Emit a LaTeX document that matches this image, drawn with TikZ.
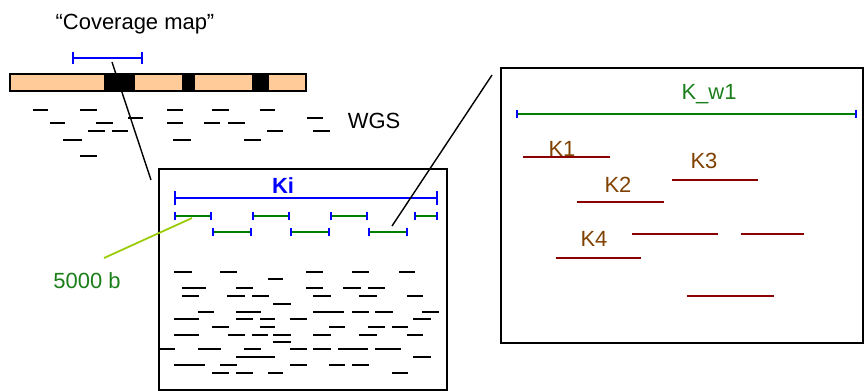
\documentclass[tikz,border=0pt]{standalone}
\usepackage{fontspec}
\setmainfont{Liberation Sans}
\usepackage{xcolor}
\usetikzlibrary{arrows.meta, positioning}

\definecolor{peach}{HTML}{FFCC99}
\definecolor{spangreen}{HTML}{008000}
\definecolor{labelgreen}{HTML}{1A7F1A}
\definecolor{limeline}{HTML}{99CC00}
\definecolor{kbrown}{HTML}{7F4000}
\definecolor{kred}{HTML}{8B0000}

\begin{document}
\begin{tikzpicture}[
    x=0.02cm, y=-0.02cm,
    font=\fontsize{12.5}{15}\selectfont,
    inner sep=0pt,
    label/.style={anchor=base},
    read/.style={line width=1pt},
    thickread/.style={line width=1.6pt},
    kspan/.style={line width=1pt, blue, {Bar[width=14pt*0.567]}-{Bar[width=14pt*0.567]}},
    window/.style={line width=1pt, spangreen, {Bar[width=9pt*0.567, color=blue]}-{Bar[width=9pt*0.567, color=blue]}},
    contig/.style={line width=1pt, kred},
    frame/.style={draw, line width=1pt, anchor=north west}
]
\useasboundingbox (0,0) rectangle (864,390);

% Coverage map
\node[label] (covlabel) at (135,29) {“Coverage map”};
\draw[kspan, {Bar[width=13pt*0.567]}-{Bar[width=13pt*0.567]}] (72,58) -- (143,58);
\coordinate (covtip) at (112,62);

% Genome bar with covered blocks
\draw[line width=0.8pt, fill=peach] (10,74) rectangle (306,91);
\foreach \a/\b in {104/135, 182/195, 252/269}
    \fill (\a,74) rectangle (\b,91);

% WGS reads
\foreach \a/\b/\y in {33/48/110, 80/97/110, 167/183/110, 212/229/110, 260/275/110,
                      128/143/118, 307/323/118,
                      96/113/123, 167/183/123, 204/220/123, 228/245/123,
                      88/105/131, 112/128/131, 267/283/131, 313/330/131,
                      173/191/140, 244/261/140}
    \draw[read] (\a,\y) -- (\b,\y);
\foreach \a/\b/\y in {50/65/123, 63/82/140, 80/97/156}
    \draw[thickread] (\a,\y) -- (\b,\y);
\node[label] (wgs) at (374,128) {WGS};

% Ki box
\node[frame, minimum width=5.76cm, minimum height=4.42cm] (kibox) at (158,168) {};
\coordinate (kicorner) at (151,180);
\node[label, blue, font=\fontsize{12.5}{15}\selectfont\bfseries] (ki) at (283,193) {Ki};
\draw[kspan] (174,198) -- (438,198);

% windows of 5000 b
\foreach \a/\b in {174/212, 252/290, 330/368, 414/438}
    \draw[window] (\a,216) -- (\b,216);
\foreach \a/\b in {212/252, 290/330, 368/408}
    \draw[window] (\a,232) -- (\b,232);
\coordinate (wintip) at (392,226);
\coordinate (sizetip) at (192,218);
\coordinate (sizeend) at (104,258);
\node[label, labelgreen] (winsize) at (87,288) {5000 b};

% reads inside Ki
\foreach \a/\b/\y in {174/192/272, 220/237/272, 306/323/272, 352/369/272, 399/415/272,
                      268/283/279,
                      182/206/288, 236/253/288, 306/323/288, 343/361/288, 368/385/288,
                      182/199/296, 227/245/296, 252/269/296, 313/331/296, 359/377/296, 407/423/296,
                      273/291/304,
                      198/214/312, 236/261/312, 313/344/312, 352/369/312, 375/393/312, 422/439/312,
                      174/199/319, 236/253/319, 260/275/319, 290/307/319, 413/431/319,
                      212/229/327, 260/275/327, 329/345/327, 368/385/327, 392/408/327,
                      174/199/335, 228/245/335, 252/268/335, 273/291/335, 313/331/335, 359/377/335, 407/423/335,
                      273/291/342,
                      158/175/349, 198/221/349, 244/261/349, 290/307/349, 313/331/349, 338/368/349, 375/401/349,
                      236/275/357, 413/431/357,
                      174/205/365, 220/237/365, 290/307/365, 329/345/365, 352/369/365,
                      212/229/373, 236/253/373, 268/283/373, 392/408/373}
    \draw[read] (\a,\y) -- (\b,\y);

% window box
\node[frame, minimum width=7.24cm, minimum height=5.5cm] (winbox) at (500,67) {};
\coordinate (wincorner) at (492,75);
\node[label, labelgreen] (kw) at (709,99) {K\_w1};
\draw[window] (516,114) -- (857,114);

% contigs
\node[label, kbrown] (k1) at (562,156) {K1};
\node[label, kbrown] (k2) at (618,192) {K2};
\node[label, kbrown] (k3) at (704,168) {K3};
\node[label, kbrown] (k4) at (594,246) {K4};
\foreach \a/\b/\y in {523/610/157, 672/758/180, 577/664/202, 632/718/234,
                      741/804/234, 556/641/258, 687/774/296}
    \draw[contig] (\a,\y) -- (\b,\y);

% zoom lines
\draw[line width=0.8pt] (covtip) -- (kicorner);
\draw[line width=0.8pt] (wintip) -- (wincorner);
\draw[line width=1pt, limeline] (sizetip) -- (sizeend);

\end{tikzpicture}
\end{document}
